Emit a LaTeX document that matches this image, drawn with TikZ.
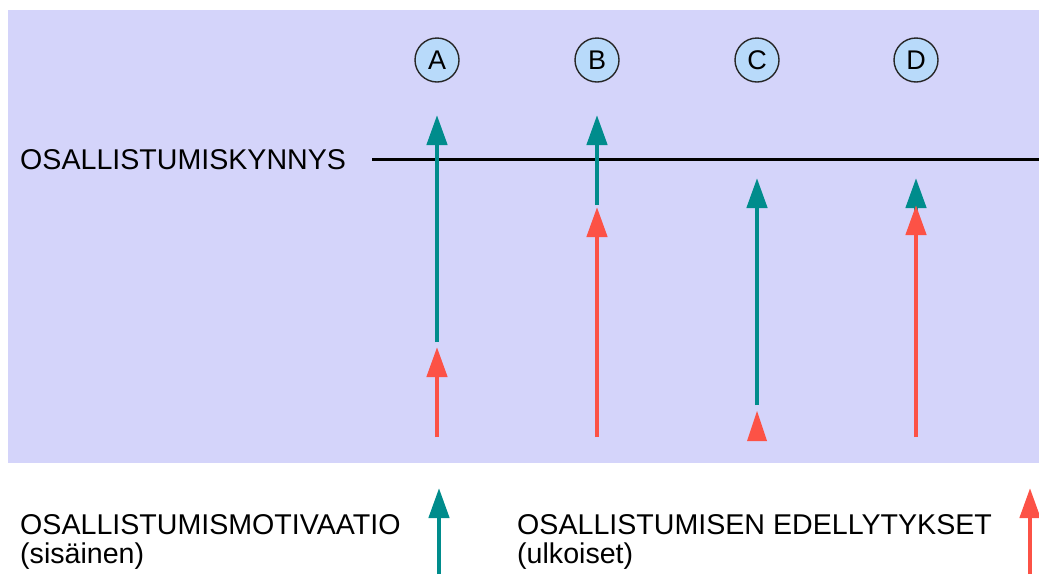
\documentclass[tikz,border=0pt]{standalone}
\usepackage{fontspec}
\setmainfont{Liberation Sans}
\usetikzlibrary{arrows.meta}
\definecolor{bgc}{RGB}{212,212,250}
\definecolor{tealc}{RGB}{0,140,140}
\definecolor{redc}{RGB}{252,82,70}
\definecolor{circc}{RGB}{184,218,250}
\tikzset{
  lbl/.style={anchor=base west,inner sep=0pt,font=\fontsize{28.6}{30}\selectfont},
  circ/.style={circle,draw=black!85,line width=1.4pt,fill=circc,minimum size=44pt,inner sep=0pt,font=\fontsize{27}{28}\selectfont},
  tarr/.style={draw=tealc,line width=4.5pt,-{Triangle[length=30pt,width=20pt]}},
  rarr/.style={draw=redc,line width=4.5pt,-{Triangle[length=30pt,width=20pt]}},
}
\begin{document}
\begin{tikzpicture}[x=1pt,y=-1pt]
\useasboundingbox (0,0) rectangle (1039,574);
\fill[bgc] (8,10) rectangle (1039,463);
% circles
\node[circ] (A) at (437,60) {A};
\node[circ] (B) at (597,60) {B};
\node[circ] (C) at (757,60) {C};
\node[circ] (D) at (916,60) {D};
% threshold
\node[lbl] (thr) at (20,169) {OSALLISTUMISKYNNYS};
\coordinate (t1) at (372,159);
\coordinate (t2) at (1039,159);
\draw[line width=3pt,black] (t1) -- (t2);
% A
\coordinate (Ar0) at (437,437); \coordinate (Ar1) at (437,347);
\coordinate (At0) at (437,342); \coordinate (At1) at (437,115);
\draw[rarr] (Ar0) -- (Ar1);
\draw[tarr] (At0) -- (At1);
% B
\coordinate (Br0) at (597,437); \coordinate (Br1) at (597,207);
\coordinate (Bt0) at (597,205); \coordinate (Bt1) at (597,115);
\draw[rarr] (Br0) -- (Br1);
\draw[tarr] (Bt0) -- (Bt1);
% C
\coordinate (Ct0) at (757,405); \coordinate (Ct1) at (757,178);
\draw[tarr] (Ct0) -- (Ct1);
\fill[redc] (747,441) -- (757,411) -- (767,441) -- cycle;
% D
\coordinate (Dt0) at (916,215); \coordinate (Dt1) at (916,178);
\coordinate (Dr0) at (916,437); \coordinate (Dr1) at (916,205);
\draw[tarr] (Dt0) -- (Dt1);
\draw[rarr] (Dr0) -- (Dr1);
% legend
\node[lbl] (l1) at (20,534) {OSALLISTUMISMOTIVAATIO};
\node[lbl] (l2) at (20,563) {(sisäinen)};
\coordinate (Lt0) at (439,574); \coordinate (Lt1) at (439,488);
\draw[tarr] (Lt0) -- (Lt1);
\node[lbl] (l3) at (517,534) {OSALLISTUMISEN EDELLYTYKSET};
\node[lbl] (l4) at (517,563) {(ulkoiset)};
\coordinate (Lr0) at (1030,574); \coordinate (Lr1) at (1030,488);
\draw[rarr] (Lr0) -- (Lr1);
\end{tikzpicture}
\end{document}
